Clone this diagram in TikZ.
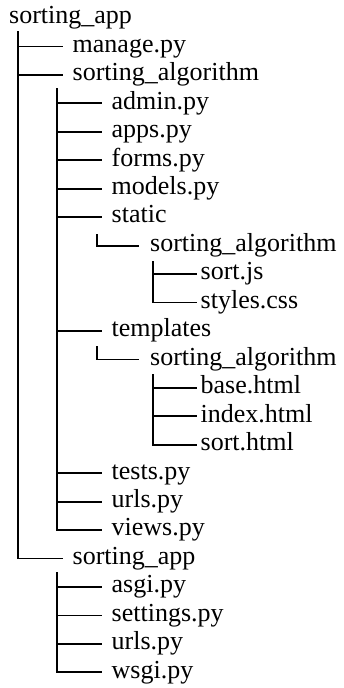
\documentclass[tikz,border=0pt]{standalone}
\usepackage{fontspec}
\setmainfont{Liberation Serif}
\begin{document}
\begin{tikzpicture}[x=1pt,y=-1pt,
  entry/.style={anchor=west,inner ysep=0pt,text height=11.6pt,text depth=0pt,
    font=\fontsize{26}{30}\selectfont},
  gapA/.style={entry,inner xsep=9.5pt},
  gapB/.style={entry,inner xsep=11pt},
  gapC/.style={entry,inner xsep=3.5pt},
  branch/.style={line width=1.8pt}]
\useasboundingbox (0,0) rectangle (344,688);
% row pitch
\def\rh{28.45}
\def\ry#1{18+\rh*#1}
% root
\node[entry,inner xsep=0pt] (root) at (9,{\ry{0}}) {sorting\_app};
% level 1
\node[gapA] (manage) at (63,{\ry{1}}) {manage.py};
\node[gapA] (alg) at (63,{\ry{2}}) {sorting\_algorithm};
\node[gapA] (proj) at (63,{\ry{19}}) {sorting\_app};
% level 2 under sorting_algorithm
\node[gapA] (admin) at (102,{\ry{3}}) {admin.py};
\node[gapA] (apps) at (102,{\ry{4}}) {apps.py};
\node[gapA] (forms) at (102,{\ry{5}}) {forms.py};
\node[gapA] (models) at (102,{\ry{6}}) {models.py};
\node[gapA] (static) at (102,{\ry{7}}) {static};
\node[gapA] (templates) at (102,{\ry{11}}) {templates};
\node[gapA] (tests) at (102,{\ry{16}}) {tests.py};
\node[gapA] (urls) at (102,{\ry{17}}) {urls.py};
\node[gapA] (views) at (102,{\ry{18}}) {views.py};
% level 3
\node[gapB] (stalg) at (139,{\ry{8}}) {sorting\_algorithm};
\node[gapB] (tpalg) at (139,{\ry{12}}) {sorting\_algorithm};
% level 4
\node[gapC] (sortjs) at (197,{\ry{9}}) {sort.js};
\node[gapC] (styles) at (197,{\ry{10}}) {styles.css};
\node[gapC] (base) at (197,{\ry{13}}) {base.html};
\node[gapC] (index) at (197,{\ry{14}}) {index.html};
\node[gapC] (sorthtml) at (197,{\ry{15}}) {sort.html};
% level 2 under the inner sorting_app
\node[gapA] (asgi) at (102,{\ry{20}}) {asgi.py};
\node[gapA] (settings) at (102,{\ry{21}}) {settings.py};
\node[gapA] (purls) at (102,{\ry{22}}) {urls.py};
\node[gapA] (wsgi) at (102,{\ry{23}}) {wsgi.py};
% tops of the vertical guides
\coordinate (t0) at (18,31);
\coordinate (t1) at (57,88);
\coordinate (t2) at (97,234);
\coordinate (t3) at (153,261);
\coordinate (t4) at (97,346);
\coordinate (t5) at (153,374);
\coordinate (t6) at (57,572);
% guides with their branches
\draw[branch] (t0) |- (proj.west);
\foreach \c in {manage,alg} \draw[branch] (t0 |- \c.west) -- (\c.west);
\draw[branch] (t1) |- (views.west);
\foreach \c in {admin,apps,forms,models,static,templates,tests,urls}
  \draw[branch] (t1 |- \c.west) -- (\c.west);
\draw[branch] (t2) |- (stalg.west);
\draw[branch] (t3) |- (styles.west);
\draw[branch] (t3 |- sortjs.west) -- (sortjs.west);
\draw[branch] (t4) |- (tpalg.west);
\draw[branch] (t5) |- (sorthtml.west);
\foreach \c in {base,index} \draw[branch] (t5 |- \c.west) -- (\c.west);
\draw[branch] (t6) |- (wsgi.west);
\foreach \c in {asgi,settings,purls} \draw[branch] (t6 |- \c.west) -- (\c.west);
\end{tikzpicture}
\end{document}
